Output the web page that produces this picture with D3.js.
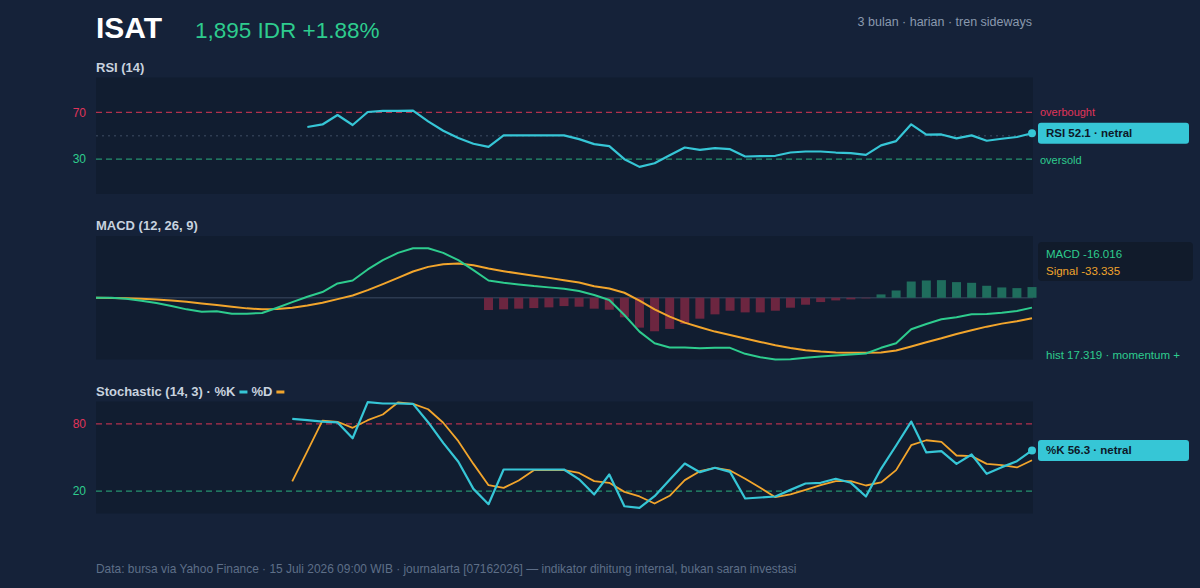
<!DOCTYPE html>
<html><head><meta charset="utf-8">
<script src="https://cdn.jsdelivr.net/npm/d3@7"></script>
<style>
html,body{margin:0;padding:0;background:#152239;}
svg{display:block;font-family:"Liberation Sans",Arial,Helvetica,sans-serif;}
</style></head>
<body>
<svg id="c" width="1200" height="588"></svg>
<script>
// ---- data (63 trading days, index based) ----
const days = d3.range(63);
const rsiValues = [null,null,null,null,null,null,null,null,null,null,null,null,null,null,
 57.5,59.7,67.8,59.2,70.4,71.3,71.3,71.5,62.3,54.3,48,43.1,40.5,50.3,50.3,50.3,50.3,50.3,47.1,
 42.8,41.1,29.9,23.3,26.4,33.3,39.9,37.9,39.4,38.5,32.2,32.5,32.8,35.6,36.5,36.5,35.6,35.1,33.6,
 41.7,45.4,59.8,50.9,51.1,47.7,50.3,45.7,47.4,48.9,52.1];
const macdValues = [0,0,-1.6,-4.8,-8.6,-13.4,-18.8,-22.5,-22,-25.8,-25.8,-24.7,-16.1,-7,1.6,9.2,23.2,28,
 45.8,60.8,72.6,80.2,80.2,72.6,60.8,44.7,28,24.2,21.6,18.9,16.8,14.5,10.8,4.4,-3.7,-28,-54.8,-73.6,
 -80.6,-80.6,-81.7,-81.1,-81.1,-90.8,-96.2,-100,-99.4,-97.3,-95.1,-93.5,-91.9,-90.3,-81.1,-73.6,-51,
 -42.4,-34.9,-31.6,-26.8,-26.2,-24.1,-21.4,-16];
const signalValues = [0,-0.3,-0.8,-1.6,-2.7,-4.3,-6.5,-9.2,-11.8,-14.5,-17.2,-18.8,-18.3,-16.1,-12.4,-8.1,
 -2.2,3.7,12.3,22,32.2,42.5,50,54.4,55.4,52.7,47.3,43,39.2,35.5,32.2,28.5,24.7,18.5,15.1,8.1,-4.8,-18.8,
 -30.6,-40.3,-47.8,-54.8,-60.2,-66.1,-71.5,-76.9,-81.2,-84.9,-87.1,-88.7,-89.2,-89.2,-88.7,-85.5,-79,
 -72,-65.6,-58.6,-52.7,-46.8,-41.9,-38.2,-33.3];
const histValues = [null,null,null,null,null,null,null,null,null,null,null,null,null,null,null,null,null,null,
 null,null,null,null,null,null,null,null,
 -19.9,-18.8,-17.7,-16.7,-15.6,-13.5,-14.5,-17.7,-19.4,-31.7,-48.4,-54.3,-50.5,-42.5,-33.9,-26.9,-21,
 -23.7,-23.7,-21,-16.1,-11.3,-7,-4.3,-2.7,-1,5.4,11.8,26.3,28,28.5,25.3,24.2,19.4,16.7,15.6,17.3];
const kValues = [null,null,null,null,null,null,null,null,null,null,null,null,null,
 84.5,83.3,82.1,81.3,67.2,99.5,98.2,98.2,97.9,81.5,63.1,46.2,22,8.3,39.3,39.3,39.3,39.3,39.3,30.5,
 17,34.8,6.5,5,15.5,30.1,44.6,36.9,40.8,37.2,13.4,14.3,15.2,21.1,26.8,27.4,31,27.4,15.2,39.9,60.7,
 82.1,54.5,55.7,44.3,52.7,35.4,41.4,46.7,56.3];
const dValues = [null,null,null,null,null,null,null,null,null,null,null,null,null,
 28.6,55.7,83,81.9,76.5,83.3,88.4,99.1,97.9,93.1,81,64.6,44.3,25.3,22.9,29.5,38.7,38.7,38.7,36.2,
 28.9,27.4,19.3,15.2,8.9,15.8,29.8,37.8,40.8,38.4,31,22.9,14.6,17,21.1,25.3,28.9,28.9,25,27.7,38.7,
 61,65.4,64,51.8,51.2,44.3,43.1,41.1,47.6];
const rsiTicks = [30,70];
const stochTicks = [20,80];
const ticker = "ISAT";
const priceText = "1,895 IDR +1.88%";
const subtitle = "3 bulan · harian · tren sideways";
const footer = "Data: bursa via Yahoo Finance · 15 Juli 2026 09:00 WIB · journalarta [07162026] — indikator dihitung internal, bukan saran investasi";

// ---- styles ----
const C = {
  panel:"#111d30", title:"#c8d2df", cyan:"#36c6d6", green:"#2ecc8e", orange:"#f2a52c",
  red:"#e0345a", redLine:"#b3304d", greenLine:"#25936f", grey:"#8a99ae", zero:"#2c3a50"
};
const svg = d3.select("#c");
const x = d3.scaleLinear().domain([0,62]).range([96,1032]);
const PL = 96, PW = 937;

// header
svg.append("text").attr("x",96).attr("y",38).attr("fill","#ffffff").attr("font-size",30).attr("font-weight","bold").text(ticker);
svg.append("text").attr("x",195).attr("y",38).attr("fill",C.green).attr("font-size",22.5).text(priceText);
svg.append("text").attr("x",1032).attr("y",26).attr("text-anchor","end").attr("fill",C.grey).attr("font-size",12.5).text(subtitle);
svg.append("text").attr("x",96).attr("y",573).attr("fill","#5e6f88").attr("font-size",11.95).text(footer);

function panel(top, bottom, title){
  svg.append("rect").attr("x",PL).attr("y",top).attr("width",PW).attr("height",bottom-top).attr("fill",C.panel);
  return svg.append("text").attr("x",96).attr("y",top-6).attr("fill",C.title).attr("font-size",13).attr("font-weight","bold").text(title);
}
function hline(y, color, dash, w){
  svg.append("line").attr("x1",PL).attr("x2",1032).attr("y1",y).attr("y2",y)
    .attr("stroke",color).attr("stroke-width",w||1.3).attr("stroke-dasharray",dash);
}
function badge(y, text){
  svg.append("rect").attr("x",1038).attr("y",y-10.5).attr("width",151).attr("height",21).attr("rx",3).attr("fill",C.cyan);
  svg.append("text").attr("x",1046).attr("y",y+4).attr("fill","#0d1828").attr("font-size",11.5).attr("font-weight","bold").text(text);
}
function leftAxis(scale, ticks){
  const g = svg.append("g").attr("transform","translate(96,0)")
    .call(d3.axisLeft(scale).tickValues(ticks).tickSize(0).tickPadding(10));
  g.select(".domain").remove();
  g.selectAll("text").attr("font-size",12).attr("font-family","Liberation Sans, Arial, sans-serif")
    .attr("fill",(d,i)=> i===0 ? C.green : C.red);
}

// ---- RSI ----
const yR = d3.scaleLinear().domain([0,100]).range([194,77.5]);
panel(77.5,194,"RSI (14)");
hline(yR(70), C.redLine, "6,4");
hline(yR(30), C.greenLine, "6,4");
hline(yR(50), "#2f3d52", "2,4", 1.5);
leftAxis(yR, rsiTicks);
const lineR = d3.line().defined(d=>d!=null).x((d,i)=>x(i)).y(d=>yR(d));
svg.append("path").datum(rsiValues).attr("d",lineR).attr("fill","none").attr("stroke",C.cyan).attr("stroke-width",2.2).attr("stroke-linejoin","round");
svg.append("circle").attr("cx",x(62)).attr("cy",yR(rsiValues[62])).attr("r",4).attr("fill",C.cyan);
svg.append("text").attr("x",1040).attr("y",yR(70)+4).attr("fill",C.red).attr("font-size",11).text("overbought");
svg.append("text").attr("x",1040).attr("y",yR(30)+4.5).attr("fill",C.green).attr("font-size",11).text("oversold");
badge(yR(rsiValues[62]), "RSI 52.1 · netral");

// ---- MACD ----
const yM = d3.scaleLinear().domain([-100,100]).range([359.5,236]);
panel(236,359.5,"MACD (12, 26, 9)");
svg.append("line").attr("x1",PL).attr("x2",PL+PW).attr("y1",yM(0)).attr("y2",yM(0)).attr("stroke",C.zero).attr("stroke-width",1.5);
const bw = 9;
svg.append("g").selectAll("rect").data(histValues.map((v,i)=>({v,i})).filter(d=>d.v!=null)).join("rect")
  .attr("x",d=>x(d.i)-bw/2).attr("width",bw)
  .attr("y",d=>d.v>=0?yM(d.v):yM(0)).attr("height",d=>Math.abs(yM(d.v)-yM(0)))
  .attr("fill",d=>d.v>=0?"#1f6d5d":"#6c2640");
const lineM = d3.line().x((d,i)=>x(i)).y(d=>yM(d));
svg.append("path").datum(signalValues).attr("d",lineM).attr("fill","none").attr("stroke",C.orange).attr("stroke-width",2).attr("stroke-linejoin","round");
svg.append("path").datum(macdValues).attr("d",lineM).attr("fill","none").attr("stroke",C.green).attr("stroke-width",2).attr("stroke-linejoin","round");
svg.append("rect").attr("x",1038).attr("y",242).attr("width",155).attr("height",39).attr("rx",4).attr("fill","#111b2b");
svg.append("text").attr("x",1046).attr("y",258).attr("fill",C.green).attr("font-size",11.5).text("MACD -16.016");
svg.append("text").attr("x",1046).attr("y",274.5).attr("fill",C.orange).attr("font-size",11.5).text("Signal -33.335");
svg.append("text").attr("x",1046).attr("y",358.5).attr("fill",C.green).attr("font-size",11.5).text("hist 17.319 · momentum +");

// ---- Stochastic ----
const yS = d3.scaleLinear().domain([0,100]).range([513.5,401.5]);
const st = panel(401.5,513.5,"Stochastic (14, 3) · %K");
const w1 = st.node().getComputedTextLength();
svg.append("rect").attr("x",96+w1+4).attr("y",390.5).attr("width",8).attr("height",3).attr("fill",C.cyan);
const t2 = svg.append("text").attr("x",96+w1+16).attr("y",395.5).attr("fill",C.title).attr("font-size",13).attr("font-weight","bold").text("%D");
const w2 = t2.node().getComputedTextLength();
svg.append("rect").attr("x",96+w1+16+w2+4).attr("y",390.5).attr("width",8).attr("height",3).attr("fill",C.orange);
hline(yS(80), C.redLine, "6,4");
hline(yS(20), C.greenLine, "6,4");
leftAxis(yS, stochTicks);
const lineS = d3.line().defined(d=>d!=null).x((d,i)=>x(i)).y(d=>yS(d));
svg.append("path").datum(dValues).attr("d",lineS).attr("fill","none").attr("stroke",C.orange).attr("stroke-width",1.8).attr("stroke-linejoin","round");
svg.append("path").datum(kValues).attr("d",lineS).attr("fill","none").attr("stroke",C.cyan).attr("stroke-width",2.2).attr("stroke-linejoin","round");
svg.append("circle").attr("cx",x(62)).attr("cy",yS(kValues[62])).attr("r",4).attr("fill",C.cyan);
badge(yS(kValues[62]), "%K 56.3 · netral");
</script>
</body></html>
